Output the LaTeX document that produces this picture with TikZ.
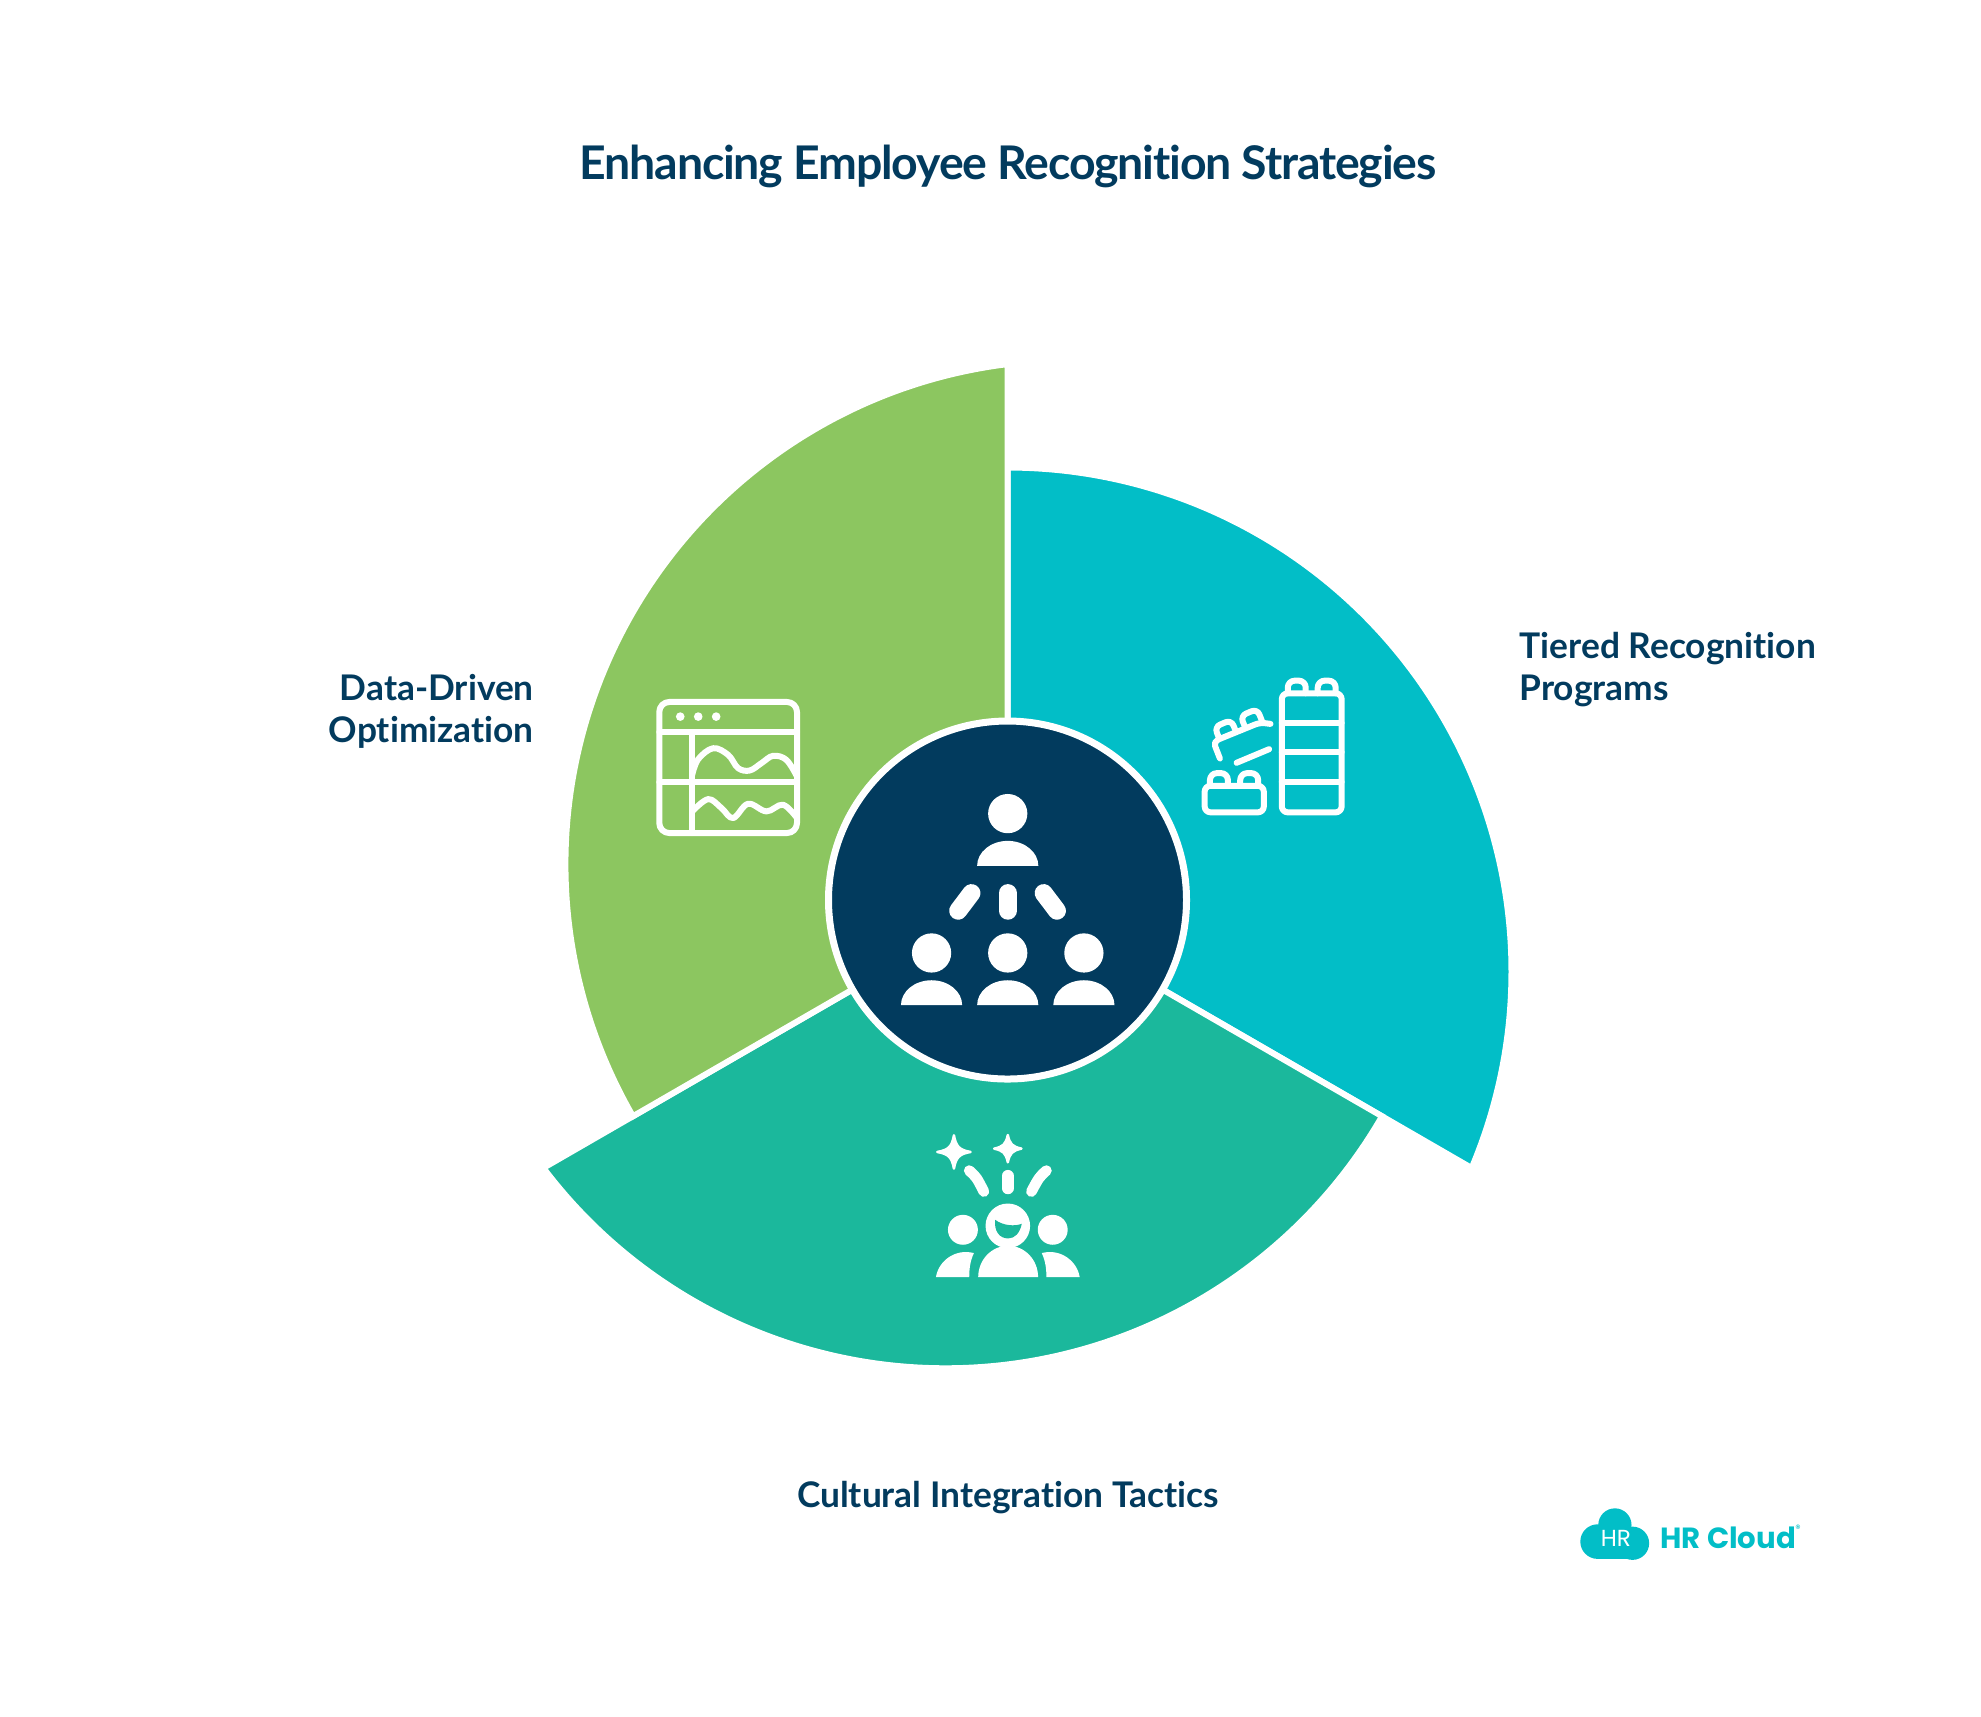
\documentclass[tikz,border=0pt]{standalone}
\usepackage{fontspec}
\setmainfont[Ligatures=NoCommon]{Lato}
\newfontfamily\titleFont[LetterSpace=-2.5,Ligatures=NoCommon]{Lato}
\newfontfamily\logoFont{Poppins}
\usetikzlibrary{calc}
\definecolor{navyBlue}{HTML}{023B5E}
\definecolor{tealBlue}{HTML}{02BEC7}
\definecolor{seaGreen}{HTML}{1BB89C}
\definecolor{leafGreen}{HTML}{8CC660}
%% One sector, drawn about the origin of the scope.
\newcommand{\mySector}[2]{%%
  \filldraw[sectorStyle,fill=#2,rotate=#1] (0,0) -- (0,\arcTop)
    arc [start angle=90,end angle=\arcEnd,radius=\arcRadius] -- cycle;
}
\newcommand{\headDome}[5]{%%
  \fill[#5] (#1,#2) circle [radius=#3];
  \fill[#5] (#1-#4,#2+157) arc [start angle=180,end angle=360,x radius=#4,y radius=75] -- cycle;
}
\newcommand{\sparkle}[3]{%%
  \filldraw[draw=white,fill=white,line width=.025cm,line join=round] (#1,#2-#3+4)
    .. controls (#1+6,#2-#3*.3) and (#1+#3*.3,#2-6) .. (#1+#3-4,#2)
    .. controls (#1+#3*.3,#2+6) and (#1+6,#2+#3*.3) .. (#1,#2+#3-4)
    .. controls (#1-6,#2+#3*.3) and (#1-#3*.3,#2+6) .. (#1-#3+4,#2)
    .. controls (#1-#3*.3,#2-6) and (#1-6,#2-#3*.3) .. (#1,#2-#3+4) -- cycle;
}
\newcommand{\brickStuds}[3]{%%
  \draw[iconStyle,rounded corners=.07cm] (#1,#3) -- (#1,#3-38) -- (#1+54,#3-38) -- (#1+54,#3);
  \draw[iconStyle,rounded corners=.07cm] (#2,#3) -- (#2,#3-38) -- (#2+54,#3-38) -- (#2+54,#3);
}

\begin{document}
\begin{tikzpicture}[%%
  sectorStyle/.style={draw=white,line width=.06cm,line join=miter},%%
  hubStyle/.style={draw=white,line width=.07cm,fill=navyBlue},%%
  iconStyle/.style={draw=white,line width=.06cm,line cap=round,line join=round},%%
  zoomStyle/.style={x=.0033333cm,y=-.0033333cm},%%
  labelStyle/.style={text=navyBlue,font=\fontsize{10.05}{12}\selectfont\bfseries,inner sep=0pt},%%
  rayStyle/.style={draw=white,line cap=round}%%
]
%%
\pgfmathsetmacro{\arcRadius}{5.04}
\pgfmathsetmacro{\arcTop}{4.325}
\pgfmathsetmacro{\arcEnd}{-22.95}
%%
\useasboundingbox (0,0) rectangle (19.81,-17.16);
\coordinate (center) at (10.075,-9.0);
%%
%% The three sectors and the hub.
\begin{scope}[shift={(center)}]
  \mySector{0}{tealBlue}
  \mySector{-120}{seaGreen}
  \mySector{-240}{leafGreen}
  \node[hubStyle,circle,minimum size=3.58cm,inner sep=0pt] (hub) at (0,0) {};
\end{scope}
%%
%% Texts.
\node[text=navyBlue,font=\titleFont\fontsize{13.2}{16}\selectfont\bfseries,inner sep=0pt] (title) at (10.08,-1.665) {Enhancing Employee Recognition Strategies};
\node[labelStyle,align=left,anchor=west] (tiered) at (15.19,-6.695) {Tiered Recognition\\Programs};
\node[labelStyle,align=right,anchor=east] (data) at (5.345,-7.11) {Data-Driven\\Optimization};
\node[labelStyle] (cultural) at (10.08,-14.975) {Cultural Integration Tactics};
%%
%% Hierarchy icon in the hub.
\begin{scope}[shift={(8.8,-7.7)},zoomStyle]
  \headDome{384}{131}{59}{92}{white}
  \headDome{155}{550}{59}{92}{white}
  \headDome{384}{550}{59}{92}{white}
  \headDome{613}{550}{59}{92}{white}
  \draw[rayStyle,line width=.18cm] (275,370) -- (235,423);
  \draw[rayStyle,line width=.18cm] (384,370) -- (384,423);
  \draw[rayStyle,line width=.18cm] (492,370) -- (532,423);
\end{scope}
%%
%% Bricks icon.
\begin{scope}[shift={(11.8,-6.6)},zoomStyle]
  \draw[iconStyle,rounded corners=.06cm] (306,100) rectangle (486,458);
  \draw[iconStyle] (306,188) -- (486,188);
  \draw[iconStyle] (306,278) -- (486,278);
  \draw[iconStyle] (306,366) -- (486,366);
  \brickStuds{324}{414}{100}
  \draw[iconStyle,rounded corners=.06cm] (74,378) rectangle (252,458);
  \brickStuds{90}{181}{378}
  \draw[iconStyle,rounded corners=.05cm] (120,296) -- (100,245) -- (240,188) -- (272,192);
  \draw[iconStyle,rounded corners=.06cm] (118,236) -- (104,201) -- (154,180) -- (168,215);
  \draw[iconStyle,rounded corners=.06cm] (196,203) -- (182,168) -- (232,147) -- (246,182);
  \draw[iconStyle] (170,309) -- (268,268);
\end{scope}
%%
%% Chart window icon.
\begin{scope}[shift={(6.4,-6.8)},zoomStyle]
  \draw[iconStyle,rounded corners=.1cm] (58,66) rectangle (472,460);
  \draw[iconStyle] (58,157) -- (472,157);
  \draw[iconStyle] (58,308) -- (472,308);
  \draw[iconStyle] (157,157) -- (157,460);
  \foreach \dotX in {121,175,229}
    \fill[white] (\dotX,110) circle [radius=13];
  \draw[iconStyle] plot[smooth,tension=.6] coordinates {(157,285) (175,238) (220,205) (265,225) (295,265) (330,272) (365,250) (400,228) (440,240) (472,290)};
  \draw[iconStyle] plot[smooth,tension=.6] coordinates {(157,395) (205,358) (245,385) (280,415) (325,372) (380,395) (430,375) (472,415)};
\end{scope}
%%
%% Team icon.
\begin{scope}[shift={(9.2,-11.2)},zoomStyle]
  \sparkle{102}{96}{54}
  \sparkle{264}{86}{45}
  \draw[rayStyle,line width=.107cm] (148,152) .. controls (170,172) .. (192,215);
  \draw[rayStyle,line width=.12cm] (264,168) -- (264,205);
  \draw[rayStyle,line width=.107cm] (380,152) .. controls (358,172) .. (335,215);
  \fill[white] (264,318) circle [radius=67];
  \fill[white] (175,472) arc [start angle=180,end angle=360,x radius=90,y radius=94] -- cycle;
  \fill[seaGreen] (226,300) .. controls (250,318) and (285,320) .. (306,312) .. controls (300,340) and (285,356) .. (265,356) .. controls (240,356) and (222,335) .. (226,300) -- cycle;
  \fill[white] (129,330) circle [radius=45];
  \fill[white] (399,330) circle [radius=45];
  \fill[white] (48,472) .. controls (55,425) and (105,385) .. (162,400) .. controls (150,425) and (148,450) .. (148,472) -- cycle;
  \fill[white] (480,472) .. controls (473,425) and (423,385) .. (366,400) .. controls (378,425) and (380,450) .. (380,472) -- cycle;
\end{scope}
%%
%% Logo.
\begin{scope}[shift={(15.6,-14.9)},zoomStyle]
  \fill[tealBlue] (165,105) circle [radius=50];
  \fill[tealBlue] (113,155) circle [radius=52];
  \fill[tealBlue] (218,160) circle [radius=50];
  \fill[tealBlue] (113,130) rectangle (218,208);
  \node[text=white,font=\logoFont\fontsize{6.6}{7}\selectfont,inner sep=0pt] (logoMark) at (168,145) {HR};
  \node[text=tealBlue,font=\logoFont\fontsize{8.3}{9}\selectfont\bfseries,inner sep=0pt,anchor=west] (logoName) at (300,143) {HR Cloud};
  \node[text=tealBlue,font=\logoFont\fontsize{3}{3}\selectfont,inner sep=0pt] (logoMarkR) at (716,117) {\symbol{"00AE}};
\end{scope}
\end{tikzpicture}
\end{document}
